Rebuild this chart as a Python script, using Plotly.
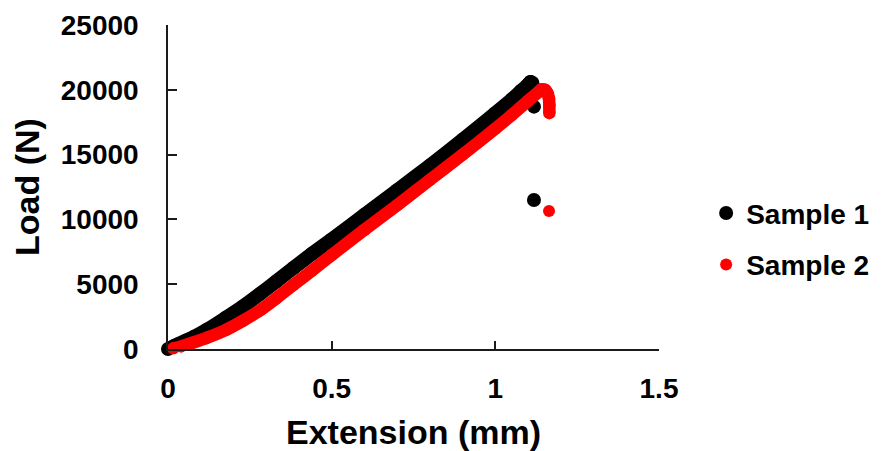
import plotly.graph_objects as go

# Sample 1 (black) - load/extension curve
ext1 = [0, 0.02, 0.077, 0.12, 0.179, 0.23, 0.281, 0.33, 0.383, 0.44, 0.5, 0.6, 0.7, 0.8, 0.9, 1.0,
        1.05, 1.08, 1.1, 1.107, 1.113]
load1 = [0, 250, 900, 1500, 2450, 3300, 4250, 5200, 6250, 7350, 8450, 10350, 12250, 14150, 16150, 18200,
         19250, 19950, 20400, 20600, 20550]
# Sample 1 points after fracture
ext1_break = [1.118, 1.118]
load1_break = [18700, 11500]

# Sample 2 (red) - load/extension curve
ext2 = [0.016, 0.04, 0.077, 0.12, 0.179, 0.23, 0.281, 0.33, 0.383, 0.44, 0.5, 0.6, 0.7, 0.8, 0.9, 1.0,
        1.05, 1.1, 1.13, 1.141, 1.152, 1.16, 1.164, 1.165, 1.165]
load2 = [50, 200, 500, 880, 1500, 2200, 2980, 3900, 4950, 6050, 7250, 9200, 11100, 13050, 15000, 17000,
         18050, 19150, 19800, 20050, 20000, 19700, 19300, 18800, 18200]
# Sample 2 point after fracture
ext2_break = [1.164]
load2_break = [10650]

x_ticks = [0, 0.5, 1, 1.5]
x_tick_labels = ["0", "0.5", "1", "1.5"]
y_ticks = [0, 5000, 10000, 15000, 20000, 25000]
y_tick_labels = ["0", "5000", "10000", "15000", "20000", "25000"]

FONT = "Liberation Sans, Arial, sans-serif"
BLACK = "#000000"
RED = "#FF0000"

fig = go.Figure()

fig.add_trace(go.Scatter(
    x=ext1, y=load1, mode="lines+markers",
    line=dict(color=BLACK, width=14, shape="spline", smoothing=0.5),
    marker=dict(color=BLACK, size=14),
    showlegend=False, legendgroup="s1", cliponaxis=False, hoverinfo="skip"))
fig.add_trace(go.Scatter(
    x=ext1_break, y=load1_break, mode="markers", name="Sample 1",
    marker=dict(color=BLACK, size=14),
    legendgroup="s1", cliponaxis=False))

fig.add_trace(go.Scatter(
    x=ext2, y=load2, mode="lines+markers",
    line=dict(color=RED, width=12.5, shape="spline", smoothing=0.5),
    marker=dict(color=RED, size=12.5),
    showlegend=False, legendgroup="s2", cliponaxis=False, hoverinfo="skip"))
fig.add_trace(go.Scatter(
    x=ext2_break, y=load2_break, mode="markers", name="Sample 2",
    marker=dict(color=RED, size=12),
    legendgroup="s2", cliponaxis=False))

fig.update_layout(
    width=877, height=443,
    margin=dict(l=160, r=226, t=17, b=102, autoexpand=False),
    paper_bgcolor="white", plot_bgcolor="white",
    font=dict(family=FONT, size=28, color="black", weight="bold"),
    legend=dict(
        x=1.096, xanchor="left", y=0.34, yanchor="middle",
        font=dict(family=FONT, size=28, color="black", weight="bold"),
        traceorder="grouped", tracegroupgap=12,
        bgcolor="rgba(0,0,0,0)", itemsizing="trace",
    ),
    xaxis=dict(
        range=[0, 1.5], tickvals=x_ticks, ticktext=x_tick_labels,
        showgrid=False, zeroline=False,
        showline=True, linecolor="#1a1a1a", linewidth=1.5,
        ticks="inside", ticklen=8, tickwidth=1.5, tickcolor="#1a1a1a",
        tickfont=dict(family=FONT, size=28, color="black", weight="bold"),
        ticklabelstandoff=14,
        title=dict(text="Extension (mm)", standoff=20,
                   font=dict(family=FONT, size=34, color="black", weight="bold")),
        automargin=False,
    ),
    yaxis=dict(
        range=[0, 25000], tickvals=y_ticks, ticktext=y_tick_labels,
        showgrid=False, zeroline=False,
        showline=True, linecolor="#1a1a1a", linewidth=1.5,
        ticks="inside", ticklen=9, tickwidth=1.5, tickcolor="#1a1a1a",
        tickfont=dict(family=FONT, size=28, color="black", weight="bold"),
        ticklabelstandoff=22,
        title=dict(text="Load (N)", standoff=12,
                   font=dict(family=FONT, size=34, color="black", weight="bold")),
        automargin=False,
    ),
)

fig.write_html("out.html")
